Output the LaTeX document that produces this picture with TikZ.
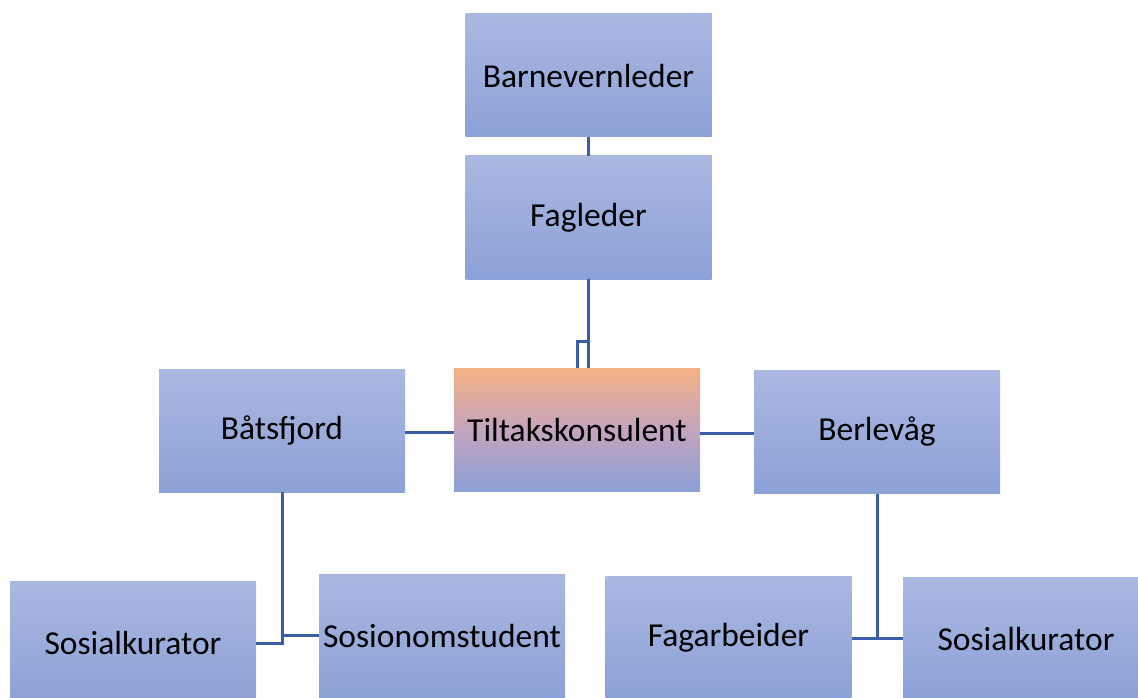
\documentclass[tikz,border=0pt]{standalone}
\usepackage{fontspec}
\setmainfont{Carlito}
\definecolor{boxtop}{RGB}{170,184,225}
\definecolor{boxbot}{RGB}{140,161,215}
\definecolor{orgtop}{RGB}{244,177,131}
\definecolor{orgmid}{RGB}{196,164,190}
\definecolor{linec}{RGB}{58,93,168}
\begin{document}
\begin{tikzpicture}[x=1pt,y=-1pt,
  orgbox/.style={rectangle,inner sep=0pt,minimum width=246pt,minimum height=123pt,
    top color=boxtop,bottom color=boxbot,draw=none,
    font=\fontsize{33.5}{40}\selectfont,text=black},
  hotbox/.style={orgbox,top color=orgtop,bottom color=boxbot,middle color=orgmid},
  conn/.style={draw=linec,line width=3pt}]
\useasboundingbox (0,0) rectangle (1138,698);
\clip (0,0) rectangle (1138,698);
\node[orgbox] (bv) at (588.5,75.5) {Barnevernleder};
\node[orgbox] (fl) at (588.5,217.5) {Fagleder};
\node[hotbox] (tk) at (577,429.5) {Tiltakskonsulent};
\node[orgbox] (bf) at (282,430.5) {Båtsfjord};
\node[orgbox] (bl) at (877,432) {Berlevåg};
\node[orgbox] (sk1) at (133,642.5) {Sosialkurator};
\node[orgbox] (ss) at (442,635.5) {Sosionomstudent};
\node[orgbox] (fa) at (728.5,637.5) {Fagarbeider};
\node[orgbox] (sk2) at (1026,638.5) {Sosialkurator};
% connectors
\draw[conn] (bv.south) -- (fl.north);
\coordinate (fj) at (588.5,341.5);
\draw[conn] (fl.south) -- (fj) -- (fj |- tk.north);
\draw[conn] (fj) -| (tk.north);
\draw[conn] (bf.east |- 0,432) -- (tk.west |- 0,432);
\draw[conn] (tk.east |- 0,433) -- (bl.west |- 0,433);
\coordinate (bfj) at (282.5,643);
\draw[conn] (bf.south -| bfj) -- (bfj) -- (sk1.east |- bfj);
\coordinate (bfk) at (282.5,635.5);
\draw[conn] (bfk) -- (ss.west |- bfk);
\coordinate (blj) at (877,638);
\draw[conn] (bl.south) -- (blj);
\draw[conn] (fa.east |- blj) -- (sk2.west |- blj);
\end{tikzpicture}
\end{document}
